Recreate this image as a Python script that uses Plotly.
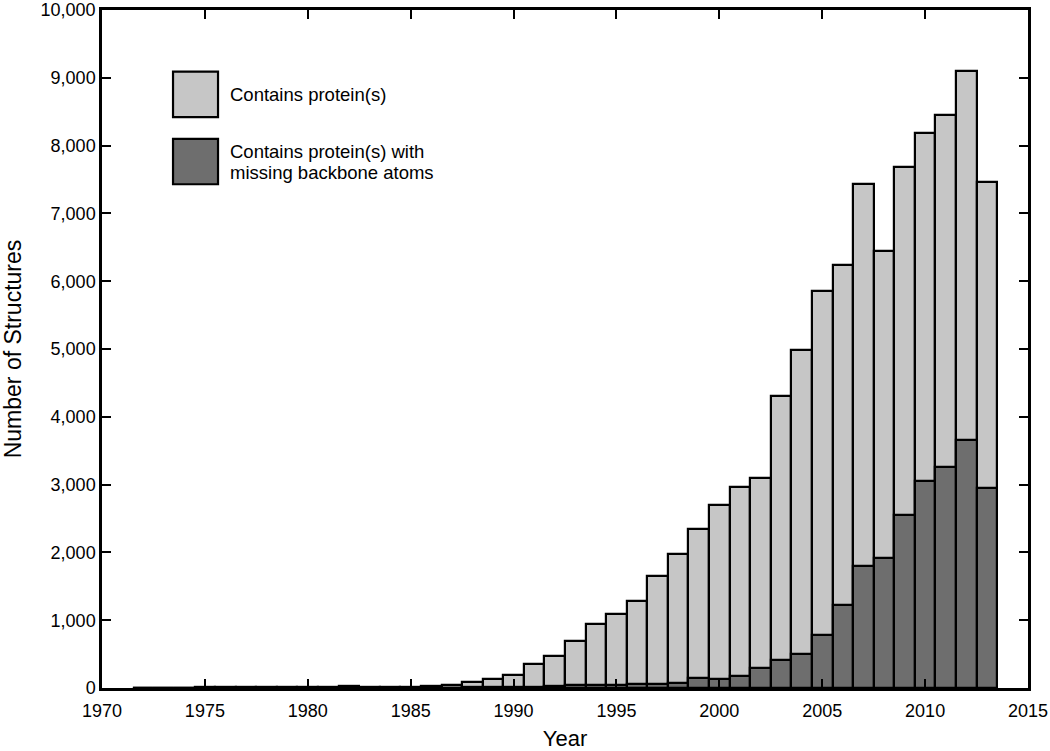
import plotly.graph_objects as go

years = list(range(1972, 2014))

# all structures containing protein(s)
protein_total = [1, 4, 3, 10, 20, 8, 10, 13, 10, 15, 35, 20, 18, 20, 28, 45,
                 84, 137, 191, 352, 475, 695, 945, 1087, 1282, 1649, 1980,
                 2349, 2702, 2966, 3094, 4313, 4983, 5855, 6236, 7435, 6451,
                 7680, 8180, 8450, 9100, 7460]

# subset with missing backbone atoms
missing_backbone = [0, 0, 0, 2, 3, 1, 1, 2, 2, 3, 5, 3, 3, 4, 5, 6,
                    8, 10, 15, 20, 33, 48, 48, 40, 55, 59, 78,
                    151, 137, 172, 289, 411, 495, 778, 1229, 1796, 1913,
                    2551, 3050, 3260, 3652, 2956]

light = "#c6c6c6"
dark = "#6e6e6e"
font = "Liberation Sans, Arial, Helvetica, sans-serif"

fig = go.Figure()
fig.add_trace(go.Bar(x=years, y=protein_total, width=1, name="Contains protein(s)",
                     marker=dict(color=light, line=dict(color="black", width=2.2))))
fig.add_trace(go.Bar(x=years, y=missing_backbone, width=1,
                     name="Contains protein(s) with missing backbone atoms",
                     marker=dict(color=dark, line=dict(color="black", width=2.2))))

axis_style = dict(showline=True, linecolor="black", linewidth=2.5, mirror="ticks",
                  ticks="inside", ticklen=9, tickwidth=2, tickcolor="black",
                  showgrid=False, zeroline=False, automargin=False,
                  ticklabeloverflow="allow",
                  tickfont=dict(family=font, size=18, color="black"))

fig.update_xaxes(range=[1970, 2015], tickvals=list(range(1970, 2016, 5)),
                 ticklabelstandoff=5,
                 title=dict(text="Year", font=dict(family=font, size=22, color="black"),
                            standoff=18),
                 **axis_style)
fig.update_yaxes(range=[0, 10000], tickvals=list(range(0, 10001, 1000)), tickformat=",d",
                 title=dict(text="Number of Structures",
                            font=dict(family=font, size=23, color="black"), standoff=26),
                 **axis_style)

# legend drawn by hand so the swatches can be large
boxes = [(light, 0.842, 0.909), (dark, 0.743, 0.810)]
for color, y0, y1 in boxes:
    fig.add_shape(type="rect", xref="paper", yref="paper", x0=0.0767, x1=0.1253,
                  y0=y0, y1=y1, fillcolor=color, line=dict(color="black", width=2.2))

legend_lines = [("Contains protein(s)", 0.876),
                ("Contains protein(s) with", 0.792),
                ("missing backbone atoms", 0.760)]
for text, ym in legend_lines:
    fig.add_annotation(xref="paper", yref="paper", x=0.136, y=ym, text=text,
                       showarrow=False, xanchor="left", yanchor="middle", align="left",
                       font=dict(family=font, size=18.5, color="black"))

fig.update_layout(
    width=1050, height=751,
    barmode="overlay", bargap=0,
    showlegend=False,
    plot_bgcolor="white", paper_bgcolor="white",
    margin=dict(l=102, r=22, t=10, b=63),
)

fig.write_html("out.html", config={"displayModeBar": False},
               post_script="document.body.style.margin='0';")
